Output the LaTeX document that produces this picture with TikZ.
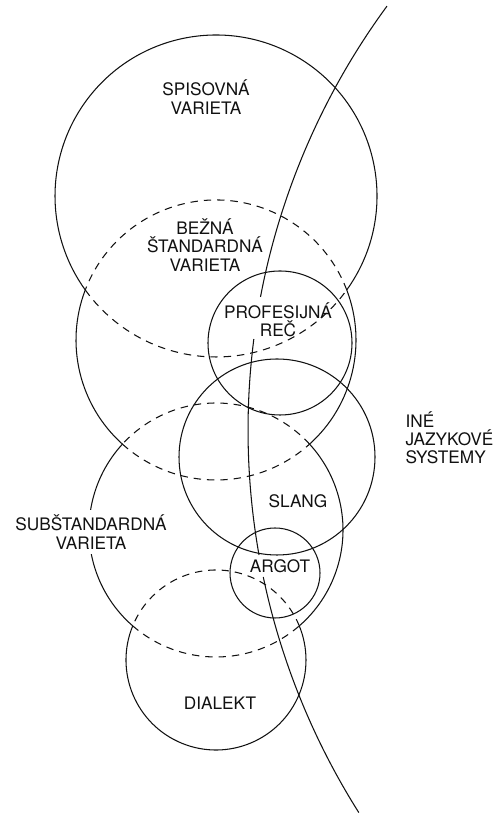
\documentclass[tikz,border=0pt]{standalone}
\usepackage{fontspec}
\setmainfont{TeX Gyre Heros}
\usepackage{xcolor,tikz}
\definecolor{varLine}{HTML}{111111}
\definecolor{varText}{HTML}{111111}

\begin{document}
\begin{tikzpicture}[x=0.02cm, y=0.02cm, line width=0.6pt, color=varLine,
  hidden/.style={dash pattern=on 4.2pt off 3.4pt},
  lab/.style={align=center, inner sep=0pt, text=varText,
    font=\fontsize{9.8}{10.4}\selectfont}]

% --- PARAMETERS ---
\def\cx{216}                 % shared centre x of the four varieties
\def\ySpis{618}  \def\rSpis{161}
\def\yBez{474}   \def\rBez{140}
\def\ySub{284}   \def\rSub{127}
\def\yDia{154}   \def\rDia{90}

\useasboundingbox (0,0) rectangle (499,814);

% --- SPISOVNA VARIETA ---
\draw (\cx,\ySpis) ++(-35.7:\rSpis)
  arc[start angle=-35.7, end angle=215.7, radius=\rSpis];
\draw[hidden] (\cx,\ySpis) ++(-144.3:\rSpis)
  arc[start angle=-144.3, end angle=-35.7, radius=\rSpis];   % inside bezna

% --- BEZNA STANDARDNA VARIETA ---
\draw[hidden] (\cx,\yBez) ++(20.95:\rBez)
  arc[start angle=20.95, end angle=159.05, radius=\rBez];
\draw (\cx,\yBez) ++(159.05:\rBez)
  arc[start angle=159.05, end angle=228.05, radius=\rBez];
\draw[hidden] (\cx,\yBez) ++(228.05:\rBez)
  arc[start angle=228.05, end angle=311.95, radius=\rBez];
\draw (\cx,\yBez) ++(311.95:\rBez)
  arc[start angle=311.95, end angle=380.95, radius=\rBez];

% --- SUBSTANDARDNA VARIETA ---
\draw[hidden] (\cx,\ySub) ++(42.54:\rSub)
  arc[start angle=42.54, end angle=137.46, radius=\rSub];
\draw (\cx,\ySub) ++(137.46:\rSub)
  arc[start angle=137.46, end angle=229, radius=\rSub];
\draw[hidden] (\cx,\ySub) ++(229:\rSub)
  arc[start angle=229, end angle=311, radius=\rSub];
\draw (\cx,\ySub) ++(311:\rSub)
  arc[start angle=311, end angle=402.54, radius=\rSub];

% --- DIALEKT ---
\draw[hidden] (\cx,\yDia) ++(22.26:\rDia)
  arc[start angle=22.26, end angle=157.74, radius=\rDia];
\draw (\cx,\yDia) ++(157.74:\rDia)
  arc[start angle=157.74, end angle=382.26, radius=\rDia];

% --- PROFESIJNA REC, SLANG, ARGOT ---
\foreach \px/\py/\pr in {280/471/72, 277/357/98, 275/241/45} {
  \draw (\px,\py) circle[radius=\pr];
}

% --- BORDER TO OTHER SYSTEMS (broken at the labels) ---
\foreach \a/\b in {143.7/169.29, 172.7/190.05, 191.85/212.3} {
  \draw (964,384) ++(\a:716) arc[start angle=\a, end angle=\b, radius=716];
}

% --- LABELS ---
\node[lab] (spis)  at (206,717) {SPISOVNÁ\\VARIETA};
\node[lab] (bezna) at (205,569) {BEŽNÁ\\ŠTANDARDNÁ\\VARIETA};
\node[lab] (prof)  at (278,494) {PROFESIJNÁ\\REČ};
\node[lab] (slang) at (298,313) {SLANG};
\node[lab, anchor=west, align=left] (ine) at (405,376) {INÉ\\JAZYKOVÉ\\SYSTEMY};
\node[lab, fill=white, inner ysep=3pt] (subst) at (91,282) {SUBŠTANDARDNÁ\\VARIETA};
\node[lab] (argot) at (280,248) {ARGOT};
\node[lab] (dial)  at (220,111) {DIALEKT};

\end{tikzpicture}
\end{document}
